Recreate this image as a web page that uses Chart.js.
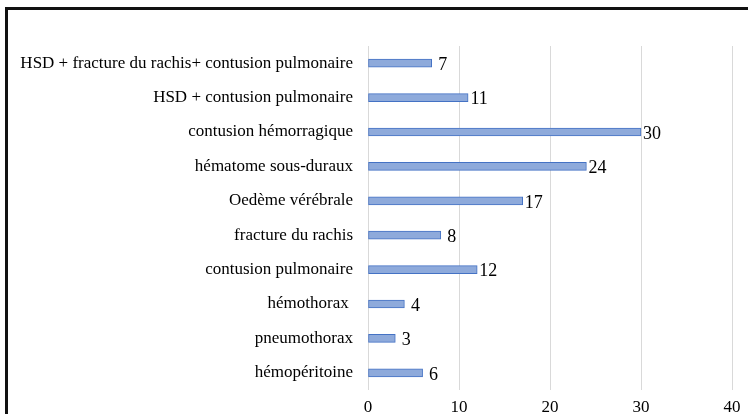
<!DOCTYPE html>
<html>
<head>
<meta charset="utf-8">
<script src="https://cdn.jsdelivr.net/npm/chart.js@4/dist/chart.umd.min.js"></script>
<style>
    html, body { margin: 0; padding: 0; background: #fff; overflow: hidden; }
    #wrap { position: relative; width: 748px; height: 414px; }
    #frame { position: absolute; left: 5px; top: 7px; width: 800px; height: 500px; border-top: 3px solid #111; border-left: 3px solid #111; box-sizing: border-box; }
    canvas { position: absolute; left: 0; top: 0; }
</style>
</head>
<body>
<div id="wrap">
    <div id="frame"></div>
    <canvas id="chart" width="748" height="414"></canvas>
</div>
<script>
const categories = [
    'HSD + fracture du rachis+ contusion pulmonaire',
    'HSD + contusion pulmonaire',
    'contusion hémorragique',
    'hématome sous-duraux',
    'Oedème vérébrale',
    'fracture du rachis',
    'contusion pulmonaire',
    'hémothorax ',
    'pneumothorax',
    'hémopéritoine'
];
const counts = [7, 11, 30, 24, 17, 8, 12, 4, 3, 6];
const xTicks = [0, 10, 20, 30, 40];

const serif = '"Liberation Serif", "Times New Roman", serif';

// draw the value next to each bar end
const valueLabels = {
    id: 'valueLabels',
    afterDatasetsDraw(chart) {
        const ctx = chart.ctx;
        const meta = chart.getDatasetMeta(0);
        ctx.save();
        ctx.fillStyle = '#000';
        ctx.font = '18px ' + serif;
        ctx.textBaseline = 'middle';
        ctx.textAlign = 'center';
        meta.data.forEach((bar, i) => {
            ctx.fillText(String(counts[i]), bar.x + 11, bar.y + 2);
        });
        ctx.restore();
    }
};

new Chart(document.getElementById('chart').getContext('2d'), {
    type: 'bar',
    data: {
        labels: categories,
        datasets: [{
            data: counts,
            backgroundColor: '#8eaadb',
            borderColor: '#4472c4',
            borderWidth: 1,
            borderSkipped: false,
            barThickness: 8
        }]
    },
    options: {
        indexAxis: 'y',
        responsive: false,
        animation: false,
        layout: { padding: { left: 0, right: 16, top: 46, bottom: 0 } },
        plugins: { legend: { display: false }, tooltip: { enabled: false } },
        scales: {
            x: {
                min: 0,
                max: 40,
                afterBuildTicks: s => { s.ticks = xTicks.map(v => ({ value: v })); },
                grid: { color: '#d9d9d9', drawTicks: false },
                border: { display: false },
                ticks: { color: '#000', font: { family: serif, size: 17 }, padding: 7 },
                afterFit: s => { s.height = 24; }
            },
            y: {
                grid: { display: false },
                border: { display: false },
                ticks: { color: '#000', font: { family: serif, size: 17 }, padding: 7, autoSkip: false },
                afterFit: s => { s.width = 368; }
            }
        }
    },
    plugins: [valueLabels]
});
</script>
</body>
</html>
